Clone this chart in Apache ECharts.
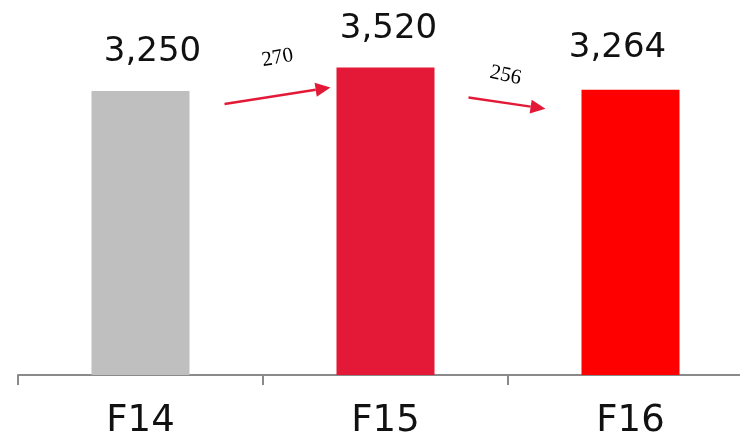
<!DOCTYPE html>
<html>
<head>
<meta charset="utf-8">
<script src="https://cdn.jsdelivr.net/npm/echarts@6/dist/echarts.min.js"></script>
<style>
  html, body { margin: 0; padding: 0; background: #ffffff; }
  #chart { width: 740px; height: 438px; }
</style>
</head>
<body>
<div id="chart"></div>
<script>
// Fiscal years and their totals
const categories = ['F14', 'F15', 'F16'];
const totals = [3250, 3520, 3264];
const barColors = ['#bfbfbf', '#e31937', '#ff0000'];

// Year-over-year change arrows: [from index, to index, change shown]
const changes = [
  [0, 1, 270],
  [1, 2, 256]
];

// Label nudges for the value labels (pixels)
const valueLabelOffsets = [[12, -4], [3, -3], [-13, -7]];
// Arrow endpoint nudges relative to the bar tops (pixels)
const arrowNudges = [
  { start: [84, 13], end: [-55, 20], label: [137, -33], rotate: 10 },
  { start: [83, 30], end: [-85, 19], label: [120, 8], rotate: -12 }
];

const fmt = v => v.toLocaleString('en-US');

const chart = echarts.init(document.getElementById('chart'));

chart.setOption({
  animation: false,
  backgroundColor: '#ffffff',
  grid: { left: 18, width: 735, top: 25.5, bottom: 63, outerBoundsMode: 'none', containLabel: false },
  xAxis: {
    type: 'category',
    data: categories,
    boundaryGap: true,
    axisLine: { show: true, lineStyle: { color: '#8a8a8a', width: 2 } },
    axisTick: { show: true, length: 10, lineStyle: { color: '#8a8a8a', width: 2 } },
    axisLabel: {
      color: '#111111',
      fontFamily: 'DejaVu Sans',
      fontSize: 37,
      margin: 28
    }
  },
  yAxis: {
    type: 'value',
    min: 0,
    max: 4000,
    show: false,
    splitLine: { show: false }
  },
  series: [
    {
      type: 'bar',
      barWidth: 98,
      data: totals.map((v, i) => ({
        value: v,
        itemStyle: { color: barColors[i] },
        label: { offset: valueLabelOffsets[i] }
      })),
      label: {
        show: true,
        position: 'top',
        distance: 18,
        color: '#111111',
        fontFamily: 'DejaVu Sans',
        fontSize: 34,
        formatter: p => fmt(p.value)
      }
    },
    {
      type: 'custom',
      z: 5,
      data: changes,
      renderItem: (params, api) => {
        const from = api.value(0);
        const to = api.value(1);
        const diff = api.value(2);
        const n = arrowNudges[params.dataIndex];
        const p0 = api.coord([from, totals[from]]);
        const p1 = api.coord([to, totals[to]]);
        const x0 = p0[0] + n.start[0], y0 = p0[1] + n.start[1];
        const x1 = p1[0] + n.end[0], y1 = p1[1] + n.end[1];
        const ang = Math.atan2(y1 - y0, x1 - x0);
        const headLen = 15, headW = 7;
        const bx = x1 - headLen * Math.cos(ang), by = y1 - headLen * Math.sin(ang);
        const nx = -Math.sin(ang), ny = Math.cos(ang);
        return {
          type: 'group',
          children: [
            {
              type: 'line',
              shape: { x1: x0, y1: y0, x2: bx, y2: by },
              style: { stroke: '#e31937', lineWidth: 2.4 }
            },
            {
              type: 'polygon',
              shape: { points: [[x1, y1], [bx + nx * headW, by + ny * headW], [bx - nx * headW, by - ny * headW]] },
              style: { fill: '#e31937' }
            },
            {
              type: 'text',
              x: p0[0] + n.label[0],
              y: p0[1] + n.label[1],
              rotation: n.rotate * Math.PI / 180,
              style: {
                text: String(diff),
                fill: '#000000',
                font: '21px "Liberation Serif"',
                align: 'center',
                verticalAlign: 'middle'
              }
            }
          ]
        };
      }
    }
  ]
});
</script>
</body>
</html>
